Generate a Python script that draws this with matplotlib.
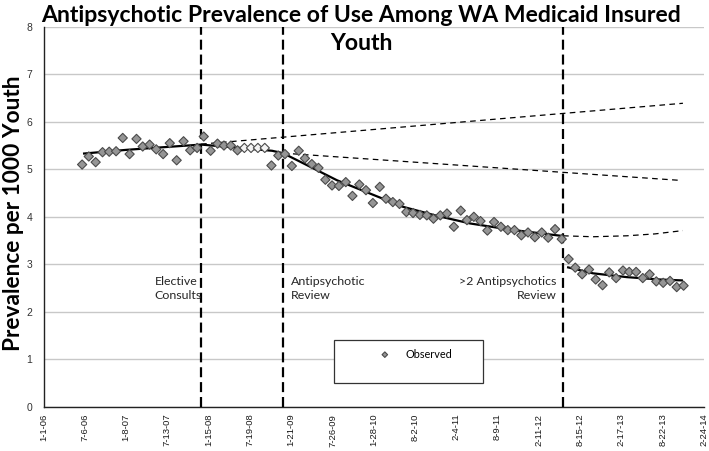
import matplotlib
matplotlib.use("Agg")
import matplotlib.pyplot as plt
import matplotlib.dates as mdates
from matplotlib.patches import Rectangle
import pandas as pd
import numpy as np

plt.rcParams['font.family'] = ['Lato', 'DejaVu Sans']

# ---------------- data ----------------
obs_start = "2006-06-24"
observed = [5.10, 5.27, 5.15, 5.36, 5.37, 5.38, 5.66, 5.32, 5.64, 5.48,
            5.52, 5.42, 5.32, 5.55, 5.19, 5.59, 5.40, 5.45, 5.69, 5.39,
            5.54, 5.50, 5.50, 5.40, 5.45, 5.45, 5.45, 5.45, 5.08, 5.29,
            5.32, 5.07, 5.39, 5.23, 5.11, 5.03, 4.78, 4.66, 4.65, 4.73,
            4.44, 4.68, 4.56, 4.29, 4.63, 4.38, 4.31, 4.27, 4.10, 4.08,
            4.04, 4.03, 3.96, 4.03, 4.07, 3.79, 4.13, 3.93, 4.00, 3.91,
            3.71, 3.89, 3.79, 3.72, 3.72, 3.61, 3.67, 3.57, 3.67, 3.56,
            3.74, 3.53, 3.11, 2.93, 2.79, 2.89, 2.68, 2.56, 2.83, 2.71,
            2.87, 2.84, 2.84, 2.71, 2.79, 2.64, 2.61, 2.65, 2.52, 2.55]

# fitted segmented trend (solid)
fit1_dates = ["2006-06-28", "2007-01-11", "2007-06-10", "2007-12-12"]
fit1_vals = [5.33, 5.41, 5.46, 5.52]
fit2_dates = ["2007-12-12", "2008-06-04", "2008-10-27", "2008-12-15"]
fit2_vals = [5.52, 5.45, 5.39, 5.34]
fit3_dates = ["2008-12-15", "2009-03-15", "2009-08-15", "2010-01-11", "2010-06-09",
              "2010-11-09", "2011-04-07", "2011-10-04", "2012-05-21"]
fit3_vals = [5.34, 5.13, 4.77, 4.49, 4.21, 4.02, 3.86, 3.73, 3.60]
fit4_dates = ["2012-06-17", "2012-10-12", "2013-03-13", "2013-08-09", "2013-11-21"]
fit4_vals = [2.94, 2.81, 2.73, 2.68, 2.66]

# counterfactual projections (dashed)
cf1_dates = ["2007-12-12", "2013-11-21"]
cf1_vals = [5.53, 6.39]
cf2_dates = ["2008-12-15", "2013-10-30"]
cf2_vals = [5.34, 4.77]
cf3_dates = ["2012-05-30", "2012-10-12", "2013-03-13", "2013-07-18", "2013-11-21"]
cf3_vals = [3.60, 3.58, 3.60, 3.64, 3.71]

# interventions
intervention_dates = ["2007-12-12", "2008-12-15", "2012-05-30"]
intervention_labels = ["Elective\nConsults", "Antipsychotic\nReview", ">2 Antipsychotics\nReview"]

title_line1 = "Antipsychotic Prevalence of Use Among WA Medicaid Insured"
title_line2 = "Youth"
ylabel = "Prevalence per 1000 Youth"
legend_label = "Observed"
x_start, x_end = "2006-01-01", "2014-02-24"
yticks = [0, 1, 2, 3, 4, 5, 6, 7, 8]

# ---------------- plot ----------------
W, H = 709, 451
fig = plt.figure(figsize=(W / 100, H / 100), dpi=100)
AX_L, AX_R, AX_T, AX_B = 43.5, 704, 26.8, 406.8
ax = fig.add_axes([AX_L / W, 1 - AX_B / H, (AX_R - AX_L) / W, (AX_B - AX_T) / H])

def px2ax(x, y):
    return ((x - AX_L) / (AX_R - AX_L), (AX_B - y) / (AX_B - AX_T))

dates = pd.date_range(obs_start, periods=len(observed), freq=pd.DateOffset(months=1))
fc = ['#959595'] * len(observed)
for i in (24, 25, 26, 27):
    fc[i] = '#f4f4f4'
ax.scatter(dates, observed, marker='D', s=22, c=fc, edgecolors='#4a4a4a',
           linewidths=0.8, zorder=4, label=legend_label)

for d, v in [(fit1_dates, fit1_vals), (fit2_dates, fit2_vals),
             (fit3_dates, fit3_vals), (fit4_dates, fit4_vals)]:
    ax.plot(pd.to_datetime(d), v, color='black', lw=1.6, zorder=3,
            solid_capstyle='butt')

for d, v in [(cf1_dates, cf1_vals), (cf2_dates, cf2_vals), (cf3_dates, cf3_vals)]:
    ax.plot(pd.to_datetime(d), v, color='black', lw=0.9, dashes=(4.5, 3.5), zorder=3)

for d in intervention_dates:
    ax.axvline(pd.Timestamp(d), color='black', lw=1.6, dashes=(4.5, 2.2), zorder=3)

# intervention labels
lab_kw = dict(fontsize=8.9, color='#262626', va='center', linespacing=1.35)
ax.text(pd.Timestamp("2007-05-16"), 2.49, intervention_labels[0], ha='left', **lab_kw)
ax.text(pd.Timestamp("2009-01-20"), 2.49, intervention_labels[1], ha='left', **lab_kw)
ax.text(pd.Timestamp("2012-04-30"), 2.49, intervention_labels[2], ha='right', **lab_kw)

ax.set_ylim(0, 8)
ax.set_yticks(yticks)
ax.set_xlim(pd.Timestamp(x_start), pd.Timestamp(x_end))
xt = pd.date_range(x_start, x_end, freq='186D')
ax.set_xticks(xt)
ax.set_xticklabels([f"{d.month}-{d.day}-{d.year % 100:02d}" for d in xt],
                   rotation=90, fontsize=6.8, color='#1a1a1a',
                   family=['Liberation Sans', 'DejaVu Sans'])
for t in ax.get_yticklabels():
    t.set_family(['Liberation Sans', 'DejaVu Sans'])
ax.tick_params(axis='x', length=0, pad=5)
ax.tick_params(axis='y', length=0, pad=8, labelsize=7.5, labelcolor='#333333')
ax.grid(axis='y', color='#c8c8c8', lw=1.0)
ax.set_axisbelow(True)
for s in ('top', 'right'):
    ax.spines[s].set_visible(False)
for s in ('left', 'bottom'):
    ax.spines[s].set_color('#222222')
    ax.spines[s].set_linewidth(1.0)

# y-axis title placed in figure pixels
fig.text(14 / W, 1 - 213 / H, ylabel, rotation=90, ha='center', va='center',
         fontsize=16.3, fontweight='bold')

# legend box (Excel-style fixed frame)
bx0, by0 = px2ax(334, 383)
bx1, by1 = px2ax(483, 340)
ax.add_patch(Rectangle((bx0, by0), bx1 - bx0, by1 - by0, transform=ax.transAxes,
                       facecolor='white', edgecolor='#333333', lw=0.9, zorder=5))
lx, ly = px2ax(374, 354)
leg = ax.legend(loc='center left', bbox_to_anchor=(lx, ly), frameon=False,
                fontsize=7.8, handletextpad=0.9, borderaxespad=0, borderpad=0,
                markerscale=0.6)
leg.set_zorder(6)

fig.text(361 / W, 1 - 15 / H, title_line1, ha='center', va='center', fontsize=16.6,
         fontweight='bold')
fig.text(361 / W, 1 - 44 / H, title_line2, ha='center', va='center', fontsize=16.6,
         fontweight='bold')

fig.savefig("out.png", dpi=100)
